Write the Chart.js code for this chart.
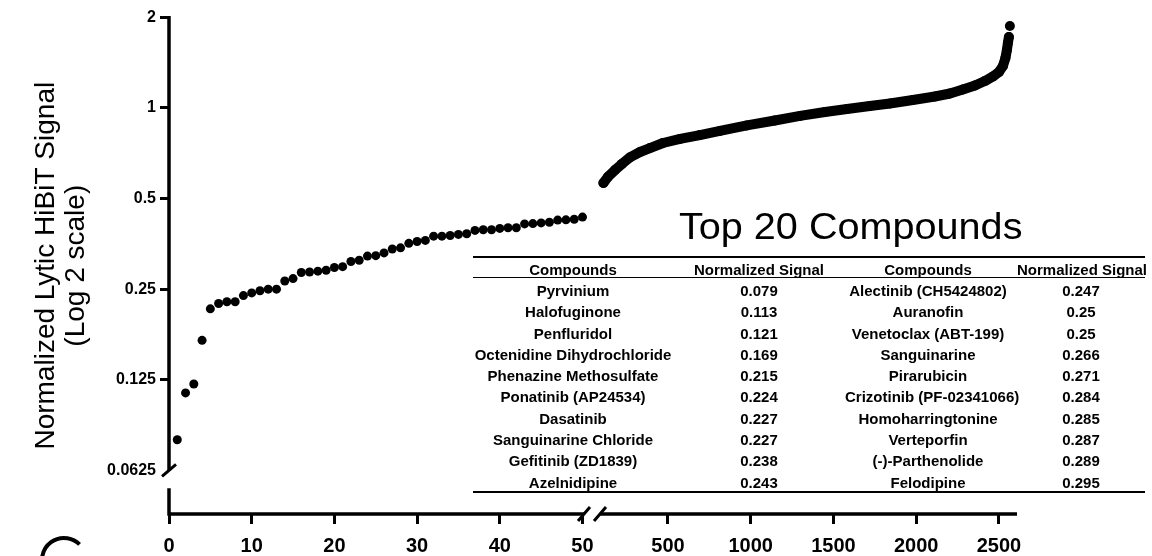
<!DOCTYPE html>
<html lang="en">

<head>
  <meta charset="UTF-8">
  <title>Lytic HiBiT screen</title>
  <script src="https://cdn.jsdelivr.net/npm/chart.js"></script>
</head>
<style>
  html,
  body {
    margin: 0;
    padding: 0;
    background-color: #fff;
  }

  .janela {
    position: relative;
    width: 1152px;
    height: 556px;
    overflow: hidden;
    font-family: 'Liberation Sans', Arial, sans-serif;
    color: #000;
  }

  canvas {
    position: absolute;
    left: 0;
    top: 0;
  }

  .tituloTabela {
    position: absolute;
    left: 679px;
    top: 209px;
    font-size: 36px;
    line-height: 36px;
    white-space: nowrap;
    transform: scaleX(1.1);
    transform-origin: left center;
  }

  .top20 {
    position: absolute;
    left: 473px;
    top: 256px;
    width: 672px;
    display: grid;
    grid-template-columns: 200px 172px 166px 134px;
    border-top: 2.5px solid #000;
    border-bottom: 2.5px solid #000;
    font-size: 15px;
    font-weight: bold;
    white-space: nowrap;
  }

  .top20 div {
    box-sizing: border-box;
    text-align: center;
  }

  .top20 .cab {
    height: 20px;
    padding-top: 4px;
    line-height: 15px;
    border-bottom: 1px solid #000;
  }

  .top20 .cel {
    height: 21.3px;
    padding-top: 5px;
    line-height: 16.3px;
  }

  .top20 .ultima {
    padding-left: 6px;
  }
</style>

<body>
  <div class="janela">
    <canvas id="graficoHibit" width="1152" height="556"></canvas>
    <div class="tituloTabela">Top 20 Compounds</div>
    <div class="top20" id="tabelaTop20"></div>
  </div>
</body>

</html>
<script>
  // ranks 1-50 (left part of the broken x axis)
  const rankA = [1, 2, 3, 4, 5, 6, 7, 8, 9, 10, 11, 12, 13, 14, 15, 16, 17, 18, 19, 20,
    21, 22, 23, 24, 25, 26, 27, 28, 29, 30, 31, 32, 33, 34, 35, 36, 37, 38, 39, 40,
    41, 42, 43, 44, 45, 46, 47, 48, 49, 50];
  const signalA = [0.079, 0.113, 0.121, 0.169, 0.215, 0.224, 0.227, 0.227, 0.238, 0.243,
    0.247, 0.25, 0.25, 0.266, 0.271, 0.284, 0.285, 0.287, 0.289, 0.295,
    0.297, 0.309, 0.312, 0.322, 0.323, 0.330, 0.340, 0.343, 0.355, 0.360,
    0.363, 0.375, 0.375, 0.377, 0.380, 0.382, 0.392, 0.394, 0.394, 0.398,
    0.400, 0.400, 0.412, 0.413, 0.415, 0.417, 0.424, 0.425, 0.427, 0.434];

  // rest of the library (right part)
  const rankB = [110, 137, 180, 222, 270, 331, 391, 470, 573, 693, 814, 977, 1146, 1298, 1449, 1582,
    1720, 1841, 1980, 2113, 2204, 2282, 2355, 2415, 2464, 2500, 2524, 2539, 2548, 2554, 2560];
  const signalB = [0.563, 0.590, 0.622, 0.652, 0.685, 0.714, 0.736, 0.765, 0.789, 0.813, 0.839, 0.875,
    0.909, 0.941, 0.970, 0.992, 1.015, 1.035, 1.063, 1.092, 1.117, 1.152, 1.188, 1.229, 1.273,
    1.317, 1.379, 1.466, 1.558, 1.645, 1.721];
  const topRank = [2566];
  const topSignal = [1.873];

  const yTicks = [0.0625, 0.125, 0.25, 0.5, 1, 2];
  const xTicksA = [0, 10, 20, 30, 40, 50];
  const xTicksB = [500, 1000, 1500, 2000, 2500];

  const compostos = ["Pyrvinium", "Halofuginone", "Penfluridol", "Octenidine Dihydrochloride",
    "Phenazine Methosulfate", "Ponatinib (AP24534)", "Dasatinib", "Sanguinarine Chloride",
    "Gefitinib (ZD1839)", "Azelnidipine",
    "Alectinib (CH5424802)", "Auranofin", "Venetoclax (ABT-199)", "Sanguinarine", "Pirarubicin",
    "Crizotinib (PF-02341066)", "Homoharringtonine", "Verteporfin", "(-)-Parthenolide", "Felodipine"];
  const cabecalho = ["Compounds", "Normalized Signal", "Compounds", "Normalized Signal"];

  // tabela top 20
  const tabela = document.getElementById("tabelaTop20");
  function addCelula(texto, classe) {
    const div = document.createElement("div");
    div.className = classe;
    div.textContent = texto;
    tabela.appendChild(div);
  }
  cabecalho.forEach((t, i) => addCelula(t, i === 3 ? "cab ultima" : "cab"));
  for (let i = 0; i < 10; i++) {
    addCelula(compostos[i], "cel");
    addCelula(String(signalA[i]), "cel");
    addCelula(compostos[i + 10], "cel");
    addCelula(String(signalA[i + 10]), "cel ultima");
  }

  const pares = (xs, ys) => xs.map((x, i) => ({ x: x, y: ys[i] }));

  // eixos com quebra, desenhados a mao
  const eixosQuebrados = {
    id: 'eixosQuebrados',
    afterDraw(chart) {
      const c = chart.ctx;
      const area = chart.chartArea;
      const y = chart.scales.y;
      const corte = chart.scales.xA.right;
      const yQuebra = y.getPixelForValue(0.0625);
      const base = area.bottom;
      const left = area.left;
      c.save();
      c.strokeStyle = '#000';
      c.lineWidth = 3.5;
      c.beginPath();
      c.moveTo(left, area.top - 1.5);
      c.lineTo(left, yQuebra);
      c.moveTo(left, yQuebra + 18);
      c.lineTo(left, base + 1.75);
      c.moveTo(left - 1.75, base);
      c.lineTo(corte - 8, base);
      c.moveTo(corte + 8, base);
      c.lineTo(area.right, base);
      c.stroke();

      c.lineWidth = 3;
      c.beginPath();
      c.moveTo(left - 7, yQuebra + 6);
      c.lineTo(left + 7, yQuebra - 6);
      [corte - 8, corte + 8].forEach(px => {
        c.moveTo(px - 6, base + 7);
        c.lineTo(px + 6, base - 7);
      });
      c.stroke();

      // pedaco do rotulo do painel seguinte
      c.lineWidth = 4;
      c.beginPath();
      c.arc(64, 560, 22, Math.PI * 1.05, Math.PI * 1.75);
      c.stroke();
      c.restore();
    }
  };

  const ctx = document.getElementById("graficoHibit").getContext("2d");
  Chart.defaults.font.family = "'Liberation Sans', Arial, sans-serif";
  Chart.defaults.color = '#000';

  const grafico = new Chart(ctx, {
    type: "scatter",
    data: {
      datasets: [
        {
          label: "Top ranks",
          data: pares(rankA, signalA),
          xAxisID: 'xA',
          backgroundColor: '#000',
          borderWidth: 0,
          pointRadius: 4.5
        },
        {
          label: "Library",
          data: pares(rankB, signalB),
          xAxisID: 'xB',
          showLine: true,
          borderColor: '#000',
          borderWidth: 10,
          borderCapStyle: 'round',
          borderJoinStyle: 'round',
          backgroundColor: '#000',
          pointRadius: 5,
          pointBorderWidth: 0
        },
        {
          label: "Max",
          data: pares(topRank, topSignal),
          xAxisID: 'xB',
          backgroundColor: '#000',
          borderWidth: 0,
          pointRadius: 5
        }
      ]
    },
    options: {
      responsive: false,
      animation: false,
      devicePixelRatio: 1,
      layout: {
        padding: { left: 0, right: 135, top: 17.4, bottom: 0 }
      },
      plugins: {
        legend: { display: false },
        tooltip: { enabled: false }
      },
      scales: {
        xA: {
          type: 'linear',
          position: 'bottom',
          stack: 'rank',
          stackWeight: 423,
          bounds: 'data',
          min: 0,
          max: 51.15,
          afterBuildTicks: s => { s.ticks = xTicksA.map(v => ({ value: v })); },
          afterFit: s => { s.height = 42; },
          border: { display: false },
          grid: { drawOnChartArea: false, tickLength: 10, tickWidth: 3, tickColor: '#000' },
          ticks: { font: { size: 20, weight: 'bold' }, padding: 10, maxRotation: 0, callback: v => String(v) }
        },
        xB: {
          type: 'linear',
          position: 'bottom',
          stack: 'rank',
          stackWeight: 425,
          bounds: 'data',
          min: 41,
          max: 2609,
          afterBuildTicks: s => { s.ticks = xTicksB.map(v => ({ value: v })); },
          afterFit: s => { s.height = 42; },
          border: { display: false },
          grid: { drawOnChartArea: false, tickLength: 10, tickWidth: 3, tickColor: '#000' },
          ticks: { font: { size: 20, weight: 'bold' }, padding: 10, maxRotation: 0, callback: v => String(v) }
        },
        y: {
          type: 'logarithmic',
          position: 'left',
          bounds: 'data',
          min: 0.04475,
          max: 2,
          afterBuildTicks: s => { s.ticks = yTicks.map(v => ({ value: v })); },
          afterFit: s => { s.width = 169; },
          border: { display: false },
          grid: {
            drawOnChartArea: false,
            tickLength: 9,
            tickWidth: 3,
            tickColor: c => (c.tick && c.tick.value === 0.0625) ? 'rgba(0,0,0,0)' : '#000'
          },
          ticks: {
            font: { size: 16, weight: 'bold' },
            padding: 4,
            callback: v => String(v)
          },
          title: {
            display: true,
            text: ["Normalized Lytic HiBiT Signal", "(Log 2 scale)"],
            font: { size: 28, lineHeight: 1.05 },
            padding: { top: 32, bottom: 0 }
          }
        }
      }
    },
    plugins: [eixosQuebrados]
  });
</script>
